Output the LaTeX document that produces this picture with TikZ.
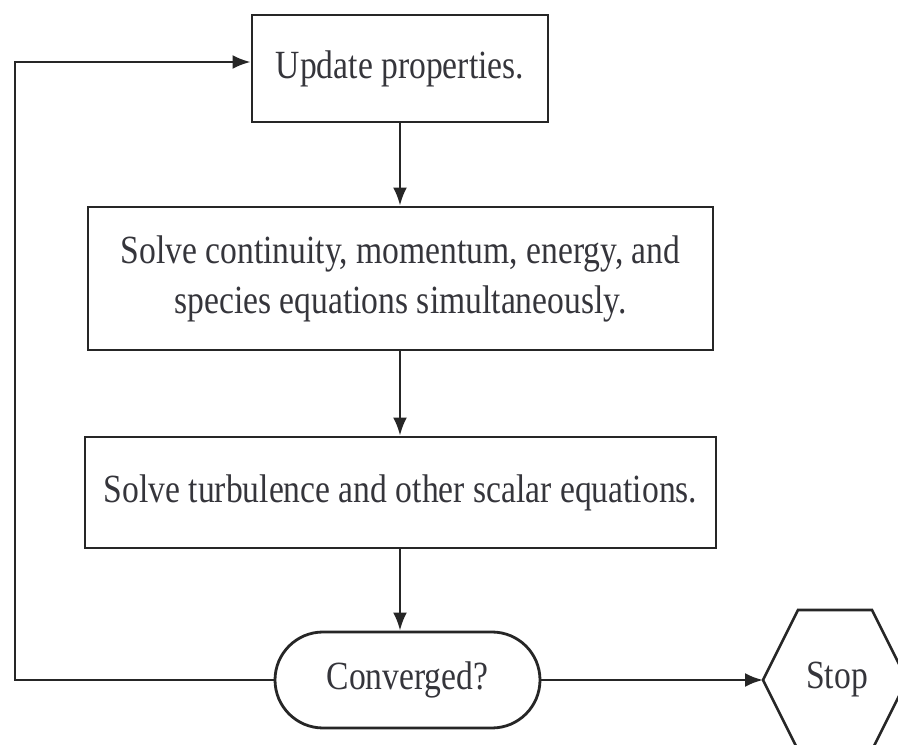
\documentclass[tikz,border=0pt]{standalone}
\usepackage{fontspec}
\setmainfont{Liberation Serif}[FakeStretch=0.84]
\usetikzlibrary{arrows.meta,shapes.misc}
\definecolor{ink}{HTML}{262626}
\definecolor{txt}{HTML}{35353B}
\begin{document}
\begin{tikzpicture}[x=1pt,y=1pt,
  box/.style={draw=ink,line width=2.8pt,align=center,inner sep=0pt,text=txt,
    font=\fontsize{40}{50}\selectfont},
  arr/.style={draw=ink,line width=2.6pt,-{Latex[length=18pt,width=14pt]}},
  ln/.style={draw=ink,line width=2.6pt}]
\useasboundingbox (0,0) rectangle (898,745);
\clip (0,0) rectangle (898,745);
\node[box,minimum width=296,minimum height=107] (upd) at (400,676.5) {Update properties.};
\node[box,minimum width=625,minimum height=143] (s1) at (400.5,466.5)
  {Solve continuity, momentum, energy, and\\species equations simultaneously.};
\node[box,minimum width=631,minimum height=111] (s2) at (400.5,252.5)
  {Solve turbulence and other scalar equations.};
\node[box,rounded rectangle,minimum width=265,minimum height=96] (conv) at (407.5,65) {Converged?};
\node[text=txt,font=\fontsize{40}{50}\selectfont] (stop) at (837,65) {Stop};
\draw[ln] (763,65) -- (798,135) -- (872,135) -- (907,65) -- (872,-5) -- (798,-5) -- cycle;
\coordinate (stopL) at (763,65);
\coordinate (c1) at (15,65);
\coordinate (c2) at (15,683);
\draw[arr] (upd.south -| 400,0) -- (s1.north -| 400,0);
\draw[arr] (s1.south -| 400,0) -- (s2.north -| 400,0);
\draw[arr] (s2.south -| 400,0) -- (conv.north -| 400,0);
\draw[arr] (conv.east) -- (stopL);
\draw[arr] (conv.west) -- (c1) -- (c2) -- (upd.west |- c2);
\end{tikzpicture}
\end{document}
